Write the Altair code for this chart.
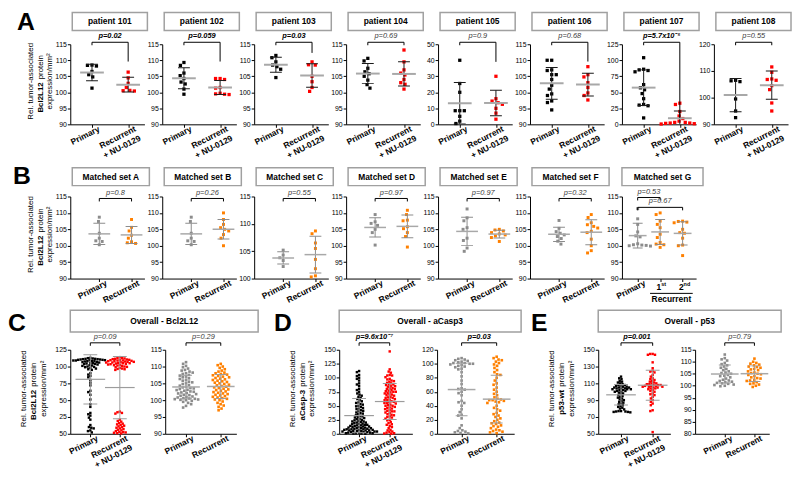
import altair as alt
import pandas as pd

FONT = "Liberation Sans"
BLACK, RED, GRAY, ORANGE = "#000000", "#ff0000", "#8c8c8c", "#ff8000"

# ------------------------------------------------------------------ row A
A_TITLES = ["patient 101", "patient 102", "patient 103", "patient 104",
            "patient 105", "patient 106", "patient 107", "patient 108"]
A_PVALUES = ["p=0.02", "p=0.059", "p=0.03", "p=0.69", "p=0.9", "p=0.68", "p=5.7x10⁻⁵", "p=0.55"]
A_SIGNIFICANT = [True, True, True, False, False, False, True, False]
A_DOMAINS = [[90, 115], [90, 115], [90, 115], [90, 115], [0, 50], [90, 115], [0, 125], [90, 120]]
T90 = [90, 95, 100, 105, 110, 115]
A_TICKS = [T90, T90, T90, T90, [0, 10, 20, 30, 40, 50], T90, [0, 25, 50, 75, 100, 125], [90, 100, 110, 120]]
A_BRACKET_END = [109.6, 109.6, 112.3, None, 39, 109.6, 10, None]
A_PRIMARY = [
    [108.5, 108.4, 108.2, 106.5, 105.5, 104.8, 101.3],
    [109.3, 108.4, 106.0, 105.2, 104.3, 103.2, 102.6, 101.0, 99.4],
    [111.5, 110.8, 109.5, 108.5, 108.0, 107.2, 104.6],
    [110.6, 109.8, 107.5, 106.4, 105.8, 105.0, 103.8, 102.4, 101.3],
    [40, 25.5, 20, 8.5, 8.5, 8.5, 5, 2, 0.5],
    [110, 110, 107, 106.8, 105.5, 105.5, 104, 102.2, 101, 99.5, 99, 97.3, 96.8, 94.5],
    [104, 86, 85, 84, 82, 62, 57, 54, 48, 40, 31, 30, 29, 10],
    [106.5, 106.3, 106, 99.5, 95, 92.5],
]
A_RECURRENT = [
    [106.3, 104.5, 102.8, 101.5, 100.6, 100.5, 100.4],
    [104.3, 104.3, 104.0, 101.5, 101.3, 99.7, 99.5, 99.4, 99.3],
    [109.5, 108.6, 108.5, 105.0, 103.3, 101.5, 100.3],
    [113.2, 109.5, 107.0, 106.0, 105.4, 104.0, 103.0, 102.5, 101.0],
    [30, 16, 14.5, 13.5, 12.5, 10, 7, 3.2],
    [108, 105.5, 104.8, 103, 101.5, 99.8, 99, 97.6],
    [33, 31, 20, 13, 9, 5, 3, 3, 2, 2, 1.5, 1, 0.5],
    [111.5, 109.5, 107, 106.8, 106.5, 104.5, 103, 98, 95],
]
XLAB_NU = ["Primary", "Recurrent\n+ NU-0129"]
XLAB_PLAIN = ["Primary", "Recurrent"]

# ------------------------------------------------------------------ row B
B_TITLES = ["Matched set A", "Matched set B", "Matched set C", "Matched set D",
            "Matched set E", "Matched set F", "Matched set G"]
B_PVALUES = ["p=0.8", "p=0.26", "p=0.55", "p=0.97", "p=0.97", "p=0.32"]
B_G_PVALUES = ["p=0.53", "p=0.67"]
B_DOMAINS = [[90, 115], [90, 115], [100, 115], [90, 115], [90, 115], [90, 115], [90, 115]]
B_TICKS = [T90, T90, [100, 105, 110, 115], T90, T90, T90, T90]
B_PRIMARY = [
    [108.7, 107.4, 103.8, 102.3, 101.5, 101.3, 100.3],
    [108.7, 107.4, 103.8, 102.3, 101.5, 101.3, 100.3],
    [105.2, 104.3, 103.8, 103.3, 102.2],
    [109.5, 107.3, 106.8, 106.2, 105, 104, 100.2],
    [111.2, 108.5, 107.6, 105.5, 105, 102.3, 101.6, 99.3, 98.3],
    [107.7, 105.3, 104.3, 103.8, 103.3, 102.8, 102.2, 101.4, 100.5],
    [111.3, 108.2, 106.5, 104.2, 103, 102.7, 100.6, 100.3, 100.2, 100.1, 100, 99.9],
]
B_RECURRENT = [
    [108, 105.6, 104.5, 103.2, 102.3, 101.2, 100.9, 100.7],
    [110, 108, 106.5, 105.5, 105, 104.5, 103.4, 102.3, 100],
    [108.7, 108.2, 106.5, 105.5, 103.5, 101.8, 100.5, 100.3],
    [110.8, 109.5, 107.8, 107.6, 105.8, 105.2, 104, 102.8, 99.6],
    [105, 104.8, 104.5, 104, 103.6, 103.3, 103, 102.5, 101.3],
    [109.5, 108.6, 107, 106.4, 105.9, 105.4, 104.4, 104, 102, 100, 98.5, 97.8],
]
B_G_FIRST = [110, 109.5, 107.5, 106.5, 105.5, 103.5, 102.5, 101, 100.5, 100.3, 99.5]
B_G_SECOND = [107.5, 107.4, 107.2, 107, 105, 104, 103.8, 102.3, 100.2, 100, 97]

# ------------------------------------------------------------------ row C / D / E
C_TITLES = ["Overall - Bcl2L12", "Overall - aCasp3", "Overall - p53"]
C_MARKERS = ["Bcl2L12", "aCasp-3", "p53-wt"]
C_PVALUES = ["p=0.09", "p=0.29", "p=9.6x10⁻⁷", "p=0.03", "p=0.001", "p=0.79"]
C_SIGNIFICANT = [False, False, True, True, True, False]
C_DOMAINS = [[0, 125], [90, 115], [0, 150], [0, 120], [50, 150], [80, 115]]
C_TICKS = [[0, 25, 50, 75, 100, 125], T90, [0, 25, 50, 75, 100, 125, 150],
           [0, 20, 40, 60, 80, 100, 120], [50, 70, 90, 110, 130, 150],
           [80, 85, 90, 95, 100, 105, 110, 115]]
BCL_NU_PRIMARY = [113, 112.5, 112, 111.5, 111.5, 111, 111, 110.5, 110.5, 110, 110, 109.5, 109.5,
                  109, 109, 108.5, 108, 108, 107.5, 107, 106.5, 106, 105.5, 105, 104.5, 104, 103.5,
                  103, 102, 101.5, 101, 100, 99.5, 99, 98, 97, 96, 95,
                  90, 88, 86, 84, 80, 76, 72, 64, 62, 58, 51, 44, 40, 31, 29, 27, 24, 21, 13, 10,
                  9, 8, 5, 4, 2]
BCL_NU_RECURRENT = [114, 113, 112.5, 112, 111.5, 111, 110.5, 110, 110, 109.5, 109, 109, 108.5, 108,
                    108, 107.5, 107, 107, 106.5, 106, 106, 105.5, 105, 105, 104.5, 104, 103.5, 103,
                    102.5, 102, 101.5, 101, 100, 99.5, 99, 98, 97, 96.5, 96, 95,
                    33, 32, 31, 30, 21, 19, 18, 16, 15, 14, 13, 12, 11, 10, 9, 8, 7, 6, 5, 4, 3,
                    2.5, 2, 1.5, 1, 0.5]
BCL_PRIMARY = [111.3, 110.8, 110.2, 109.8, 109.4, 109, 108.8, 108.5, 108.2, 108, 107.8, 107.5,
               107.3, 107, 106.8, 106.5, 106.3, 106, 105.8, 105.5, 105.3, 105, 104.8, 104.5, 104.3,
               104, 103.8, 103.6, 103.5, 103.3, 103.1, 103, 102.8, 102.6, 102.5, 102.3, 102.1, 102,
               101.8, 101.6, 101.5, 101.3, 101.1, 101, 100.8, 100.6, 100.5, 100.4, 100.3, 100.2,
               100.1, 100, 99.8, 99.5, 99.2, 98.8, 98.3, 97.8]
BCL_RECURRENT = [110.8, 110.4, 110, 109.6, 109.2, 108.8, 108.5, 108.2, 108, 107.8, 107.6, 107.4,
                 107.2, 107, 106.8, 106.6, 106.4, 106.2, 106, 105.8, 105.6, 105.4, 105.2, 105,
                 104.8, 104.6, 104.4, 104.2, 104, 103.8, 103.6, 103.4, 103.2, 103, 102.8, 102.6,
                 102.4, 102.2, 102, 101.8, 101.6, 101.4, 101.2, 101, 100.8, 100.6, 100.4, 100.2,
                 100, 99.6, 99.2, 98.8, 98.4, 98, 97.5, 97]
CASP_NU_PRIMARY = [112, 110, 105, 103, 100, 98, 95, 90, 88, 85, 80, 78, 75, 72, 70, 68, 66, 64, 62,
                   60, 58, 56, 55, 53, 52, 50, 49, 48, 46, 45, 44, 42, 41, 40, 38, 37, 36, 35, 33,
                   32, 31, 30, 29, 28, 27, 26, 25, 24, 23, 22, 22, 21, 20, 20, 19, 18, 18, 17, 16,
                   16, 15, 15, 14, 14, 13, 13, 12, 12, 11, 11, 10, 10, 10, 9, 9, 8, 8, 8, 7, 7, 7,
                   6, 6, 6, 5, 5, 5, 4, 4, 4, 3, 3, 3, 2, 2, 2, 1, 1, 1, 0.5, 0.5, 0]
CASP_NU_RECURRENT = [147, 115, 111, 109, 105, 104, 104, 101, 98, 97, 95, 94, 93, 91, 90, 88, 88, 87,
                     85, 85, 84, 82, 81, 80, 80, 78, 77, 76, 75, 75, 74, 73, 72, 70, 70, 69, 68, 66,
                     65, 64, 64, 62, 61, 60, 60, 58, 57, 56, 55, 55, 54, 52, 51, 50, 50, 48, 47, 46,
                     45, 44, 42, 41, 40, 40, 38, 37, 35, 34, 33, 31, 30, 29, 27, 25, 24, 21, 19, 17,
                     16, 14, 12, 10, 7, 6, 4, 3, 2, 1, 0.5, 0]
CASP_PRIMARY = [108, 107, 106, 105, 104, 103, 102, 101, 101, 100, 100, 99, 98, 97, 96, 95, 93, 92,
                88, 82, 76, 71, 65, 64, 63, 60, 58, 55, 47, 45, 44, 40, 35, 31, 27, 26, 22,
                12, 8, 5, 4, 3, 2, 1, 0.5]
CASP_RECURRENT = [110, 108, 106, 105, 103, 101, 99, 97, 94, 91, 88, 85, 84, 80, 76, 72, 70, 66, 63,
                  60, 57, 55, 52, 50, 49, 48, 48, 47, 46, 45, 44, 40, 37, 35, 33, 30, 28, 26, 24,
                  22, 20, 18, 16, 15, 14, 12, 11, 10, 8, 6, 5, 4, 3, 2, 1]
P53_NU_PRIMARY = [118, 116, 115, 113, 112, 111, 110, 109, 108, 108, 107, 107, 106, 106, 105, 105,
                  105, 104, 104, 104, 103, 103, 103, 102, 102, 101, 101, 100, 100, 99, 98, 97, 96,
                  95, 94, 93, 92, 91, 90, 89, 88, 87, 86, 85, 84, 83, 82, 81, 80, 79, 77, 77, 76.5,
                  76.5, 76, 76, 75.5]
P53_NU_RECURRENT = [145, 145, 144, 144, 135, 128, 125, 124, 123, 120, 118, 116, 115, 114, 113, 112,
                    111, 110, 110, 109, 109, 108, 108, 108, 107, 107, 107, 106, 106, 106, 105, 105,
                    104, 104, 103, 102, 101, 100, 98, 97, 96, 94, 92, 90, 88, 86, 84, 78, 77, 52]
P53_PRIMARY = [113, 111.5, 111, 110.5, 109.5, 109, 108.5, 108, 107.5, 107, 106.5, 106, 105.5, 105.3,
               105, 104.5, 104.2, 104, 103.5, 103, 102.5, 102.2, 102, 101.7, 101.5, 101.2, 101,
               100.8, 100.5, 100.3, 100, 99.8]
P53_RECURRENT = [111.3, 110, 109.5, 109.2, 108.8, 108.5, 108, 107.8, 107.5, 107, 106.8, 106.5, 106,
                 105.5, 105.3, 105, 104.8, 104.5, 104, 103.5, 103.2, 103, 102.5, 102.2, 102, 101.5,
                 101, 100.8, 100.5, 100, 99.5]

# ------------------------------------------------------------------ helpers
ONE = pd.DataFrame({"k": [0]})
STYLE_A = dict(size=11, diam=4.6, sd="#1a1a1a", mean="#a8a8a8", cap=12, mean_w=24, mean_t=2)
STYLE_B = dict(size=9, diam=4.4, sd="#8c8c8c", mean="#a8a8a8", cap=12, mean_w=22, mean_t=1.5)
STYLE_C = dict(size=6, diam=2.5, sd="#9c9c9c", mean="#9c9c9c", cap=14, mean_w=30, mean_t=1.2)
STYLE_CR = dict(size=7, diam=3.4, sd="#9c9c9c", mean="#a8a8a8", cap=12, mean_w=28, mean_t=1.5)


def swarm(vals, dom, h, diam):
    lo, hi = dom
    ys = [(v - lo) / (hi - lo) * h for v in vals]
    order = sorted(range(len(vals)), key=lambda i: -ys[i])
    placed, xs = [], [0.0] * len(vals)
    for i in order:
        y = ys[i]
        near = [(px, py) for px, py in placed if abs(py - y) < diam]
        cands = [0.0]
        for px, py in near:
            dx = (diam * diam - (py - y) ** 2) ** 0.5
            cands += [px + dx, px - dx]
        cands.sort(key=lambda c: (abs(c), c))
        for c in cands:
            if all((c - px) ** 2 + (y - py) ** 2 >= diam * diam - 1e-6 for px, py in near):
                xs[i] = c
                break
        placed.append((xs[i], y))
    return xs


class Panel:
    def __init__(self, groups, colors, dom, ticks, w, h, xdom, st, zero_label=None):
        ppu = w / (xdom[1] - xdom[0])
        rows = []
        for gi, vals in enumerate(groups):
            for v, o in zip(vals, swarm(vals, dom, h, st["diam"])):
                rows.append({"g": gi, "x": gi + o / ppu, "v": v, "c": colors[gi]})
        self.df = pd.DataFrame(rows)
        self.w, self.h = w, h
        self.xs = alt.Scale(domain=xdom, nice=False, zero=False)
        self.ys = alt.Scale(domain=dom, nice=False, zero=False)
        self.xax = alt.Axis(values=list(range(len(groups))), labels=False, title=None, grid=False)
        yax = dict(values=ticks, title=None, grid=False)
        if zero_label:
            yax["labelExpr"] = "datum.value == 0 ? '%s' : datum.label" % zero_label
        self.yax = alt.Axis(**yax)
        self.st = st
        self.layers = []

    def X(self, f):
        return alt.X(f, scale=self.xs, axis=self.xax)

    def Y(self, f):
        return alt.Y(f, scale=self.ys, axis=self.yax)

    def core(self):
        st = self.st
        pts = alt.Chart(self.df).mark_square(size=st["size"], opacity=1).encode(
            x=self.X("x:Q"), y=self.Y("v:Q"), color=alt.Color("c:N", scale=None))
        stats = alt.Chart(self.df).transform_aggregate(
            m="mean(v)", s="stdev(v)", groupby=["g"]
        ).transform_calculate(lo="datum.m - datum.s", hi="datum.m + datum.s")
        sd = stats.mark_rule(color=st["sd"], strokeWidth=1, clip=True).encode(
            x=self.X("g:Q"), y=self.Y("lo:Q"), y2="hi:Q")
        caps = [stats.mark_tick(orient="horizontal", size=st["cap"], thickness=1, color=st["sd"],
                                opacity=1, clip=True).encode(x=self.X("g:Q"), y=self.Y(f + ":Q"))
                for f in ("lo", "hi")]
        mean = stats.mark_tick(orient="horizontal", size=st["mean_w"], thickness=st["mean_t"],
                               color=st["mean"], opacity=1).encode(x=self.X("g:Q"), y=self.Y("m:Q"))
        self.layers += [pts, sd] + caps + [mean]

    def bracket(self, a, b, yb, text, bold, end=None, leg=3, ty=None):
        d = pd.DataFrame({"a": [a], "b": [b], "m": [(a + b) / 2],
                          "e": [end if end is not None else 0]})
        base = alt.Chart(d)
        self.layers += [
            base.mark_rule(color="black", strokeWidth=1).encode(
                x=self.X("a:Q"), x2="b:Q", y=alt.value(yb)),
            base.mark_rule(color="black", strokeWidth=1).encode(
                x=self.X("a:Q"), y=alt.value(yb), y2=alt.value(yb + leg)),
        ]
        if end is None:
            self.layers.append(base.mark_rule(color="black", strokeWidth=1).encode(
                x=self.X("b:Q"), y=alt.value(yb), y2=alt.value(yb + leg)))
        else:
            self.layers.append(base.mark_rule(color="black", strokeWidth=1).encode(
                x=self.X("b:Q"), y=self.Y("e:Q"), y2=alt.value(yb)))
        self.layers.append(base.mark_text(
            text=text, font=FONT, fontSize=7.5, fontStyle="italic",
            fontWeight="bold" if bold else "normal", color="black" if bold else "#3a3a3a",
            align="center", baseline="bottom").encode(
            x=self.X("m:Q"), y=alt.value(yb - 2 if ty is None else ty)))

    def xlabels(self, labels):
        d = pd.DataFrame({"g": list(range(len(labels))), "t": labels})
        self.layers.append(alt.Chart(d).mark_text(
            angle=333, align="right", baseline="top", lineBreak="\n", font=FONT, fontSize=8.5,
            fontWeight="bold", dx=6).encode(x=self.X("g:Q"), y=alt.value(self.h + 3), text="t:N"))

    def add(self, items):
        self.layers += items

    def chart(self):
        return alt.layer(*self.layers).properties(width=self.w, height=self.h)


def txt(text, x, y, size, weight="normal", align="center", baseline="middle", angle=0, dx=0):
    kw = dict(text=text, font=FONT, fontSize=size, fontWeight=weight, align=align,
              baseline=baseline, color="black")
    if angle:
        kw["angle"] = angle
    if dx:
        kw["dx"] = dx
    return alt.Chart(ONE).mark_text(**kw).encode(x=alt.value(x), y=alt.value(y))


def box(x1, x2, y1, y2, title, size):
    r = alt.Chart(ONE).mark_rect(fill="white", stroke="#a0a0a0", strokeWidth=1.5).encode(
        x=alt.value(x1), x2=alt.value(x2), y=alt.value(y1), y2=alt.value(y2))
    return [r, txt(title, (x1 + x2) / 2, (y1 + y2) / 2, size, "bold")]


def ytitle(x1, x2, x3, yc, marker):
    return [
        txt("Rel. tumor-associated", x1, yc, 8, angle=270),
        txt(marker, x2, yc, 8, "bold", align="right", angle=270, dx=-1),
        txt("protein", x2, yc, 8, align="left", angle=270, dx=2),
        txt("expression/mm²", x3, yc, 8, angle=270),
    ]


# ------------------------------------------------------------------ row A
WA, HA = 75, 81
XDOM_A = [-0.6, 1.45]
panels_a = []
for i in range(8):
    p = Panel([A_PRIMARY[i], A_RECURRENT[i]], [BLACK, RED], A_DOMAINS[i], A_TICKS[i],
              WA, HA, XDOM_A, STYLE_A)
    p.core()
    p.bracket(0, 1, -2, A_PVALUES[i], A_SIGNIFICANT[i], A_BRACKET_END[i])
    p.xlabels(XLAB_NU)
    p.add(box(2, 78, -32, -14, A_TITLES[i], 8.5))
    if i == 0:
        p.add(ytitle(-40, -30, -20, HA / 2 - 3, "Bcl2L12"))
        p.add([txt("A", -54, -34, 25, "bold", align="left", baseline="top")])
    panels_a.append(p.chart())
row_a = alt.hconcat(*panels_a, spacing=18, bounds="flush")

# ------------------------------------------------------------------ row B
WB, HB = 75, 83
XDOM_B = [-0.9, 1.4]
panels_b = []
for i in range(6):
    p = Panel([B_PRIMARY[i], B_RECURRENT[i]], [GRAY, ORANGE], B_DOMAINS[i], B_TICKS[i],
              WB, HB, XDOM_B, STYLE_B)
    p.core()
    p.bracket(0, 1, 2, B_PVALUES[i], False)
    p.xlabels(XLAB_PLAIN)
    p.add(box(2, 80, -29, -11, B_TITLES[i], 8.5))
    if i == 0:
        p.add(ytitle(-40, -30, -20, HB / 2 - 3, "Bcl2L12"))
        p.add([txt("B", -58, -33, 25, "bold", align="left", baseline="top")])
    panels_b.append(p.chart())

p = Panel([B_PRIMARY[6], B_G_FIRST, B_G_SECOND], [GRAY, ORANGE, ORANGE], B_DOMAINS[6],
          B_TICKS[6], WB, HB, [-0.7, 2.6], dict(STYLE_B, cap=10, mean_w=18))
p.core()
p.bracket(0, 1, 1, B_G_PVALUES[0], False)
p.bracket(0, 2, 11, B_G_PVALUES[1], False)
p.xlabels(["Primary"])
ordd = pd.DataFrame({"g": [1, 2], "n": ["1", "2"], "s": ["st", "nd"]})
p.add([
    alt.Chart(ordd).mark_text(font=FONT, fontSize=8.5, fontWeight="bold", align="right",
                              baseline="top", dx=1).encode(
        x=p.X("g:Q"), y=alt.value(HB + 5), text="n:N"),
    alt.Chart(ordd).mark_text(font=FONT, fontSize=5.5, fontWeight="bold", align="left",
                              baseline="top", dx=1).encode(
        x=p.X("g:Q"), y=alt.value(HB + 4), text="s:N"),
    alt.Chart(pd.DataFrame({"a": [1 - 0.45], "b": [2 + 0.45]})).mark_rule(
        color="black", strokeWidth=1).encode(x=p.X("a:Q"), x2="b:Q", y=alt.value(HB + 15)),
    alt.Chart(pd.DataFrame({"m": [1.5], "t": ["Recurrent"]})).mark_text(
        font=FONT, fontSize=8.5, fontWeight="bold", align="center", baseline="top").encode(
        x=p.X("m:Q"), y=alt.value(HB + 17), text="t:N"),
])
p.add(box(0, 82, -29, -11, B_TITLES[6], 8.5))
panels_b.append(p.chart())
row_b = alt.hconcat(*panels_b, spacing=18, bounds="flush")

# ------------------------------------------------------------------ row C / D / E
HC = 85
WC = [71, 72, 74, 78, 73, 75]
XDOM_C = [[-0.68, 1.7], [-0.6, 1.45], [-0.65, 1.74], [-0.7, 1.5], [-0.72, 1.56], [-1.0, 1.5]]
GROUPS_C = [[BCL_NU_PRIMARY, BCL_NU_RECURRENT], [BCL_PRIMARY, BCL_RECURRENT],
            [CASP_NU_PRIMARY, CASP_NU_RECURRENT], [CASP_PRIMARY, CASP_RECURRENT],
            [P53_NU_PRIMARY, P53_NU_RECURRENT], [P53_PRIMARY, P53_RECURRENT]]
LETTERS = ["C", "D", "E"]
LETTER_X = [-63, -66, -68]
BOX_X2 = [190, 184, 185]
panels_c = []
for j in range(6):
    left = j % 2 == 0
    colors = [BLACK, RED] if left else [GRAY, ORANGE]
    st = STYLE_C if left else STYLE_CR
    p = Panel(GROUPS_C[j], colors, C_DOMAINS[j], C_TICKS[j], WC[j], HC, XDOM_C[j], st,
              zero_label="50" if j == 0 else None)
    p.core()
    p.bracket(0, 1, -7, C_PVALUES[j], C_SIGNIFICANT[j])
    p.xlabels(XLAB_NU if left else XLAB_PLAIN)
    if left:
        k = j // 2
        p.add(box(0, BOX_X2[k], -40, -18, C_TITLES[k], 8.5))
        p.add(ytitle(-47, -37, -27, HC / 2 - 3, C_MARKERS[k]))
        p.add([txt(LETTERS[k], LETTER_X[k], -39, 25, "bold", align="left", baseline="top")])
    panels_c.append(p.chart())


def spacer(w, h):
    return alt.Chart(ONE).mark_point(opacity=0).encode(
        x=alt.value(0), y=alt.value(0)).properties(width=w, height=h)


row_c = alt.hconcat(panels_c[0], panels_c[1], spacer(54, HC), panels_c[2], panels_c[3],
                    spacer(35, HC), panels_c[4], panels_c[5], spacing=25, bounds="flush")

chart = alt.vconcat(row_a, row_b, row_c, spacing=4).properties(
    padding=0, background="white"
).configure_view(strokeWidth=0).configure_axis(
    domainColor="black", tickColor="black", labelColor="black", labelFont=FONT,
    labelFontSize=7, tickSize=3, labelPadding=1, domainWidth=1, tickWidth=1, grid=False
)

chart.save("out.html", embed_options={"renderer": "svg", "actions": False})
